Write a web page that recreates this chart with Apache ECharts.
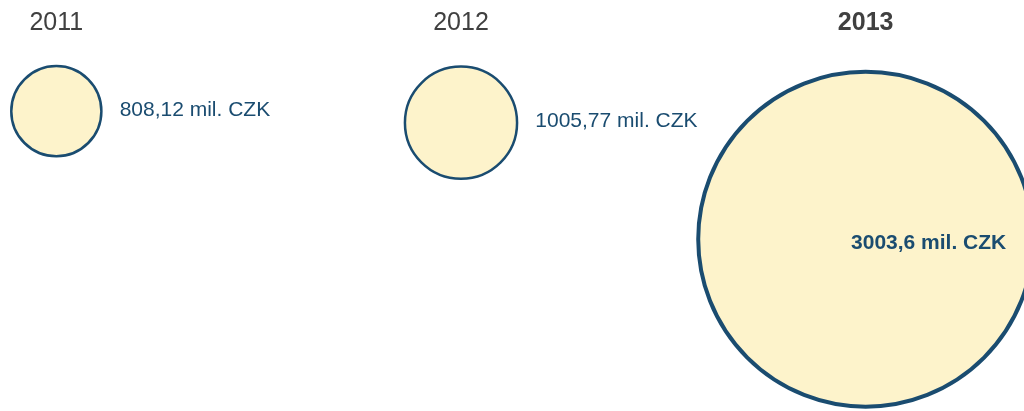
<!DOCTYPE html>
<html>
<head>
<meta charset="utf-8">
<script src="https://cdn.jsdelivr.net/npm/echarts@6/dist/echarts.min.js"></script>
<style>
  html, body { margin: 0; padding: 0; background: #fff; }
  #chart { width: 1024px; height: 411px; }
</style>
</head>
<body>
<div id="chart"></div>
<script>
  // ---------- data ----------
  var years = ['2011', '2012', '2013'];
  var amounts = [808.12, 1005.77, 3003.6];
  var amountLabels = ['808,12 mil. CZK', '1005,77 mil. CZK', '3003,6 mil. CZK'];

  var ink = '#1a4c70';
  var fill = '#fdf3cb';
  var last = years.length - 1;

  var chart = echarts.init(document.getElementById('chart'));

  var seriesData = amounts.map(function (v, i) {
    var isLast = i === last;
    return {
      value: [years[i], v],
      itemStyle: { borderWidth: isLast ? 4 : 2.5 },
      label: isLast
        ? { position: 'inside', offset: [63, 4], fontWeight: 'bold' }
        : { position: 'right', distance: 17, offset: [0, -1] }
    };
  });

  var option = {
    animation: false,
    grid: {
      left: -146,
      right: -44,
      top: 64,
      bottom: -3,
      outerBoundsMode: 'none'
    },
    xAxis: {
      type: 'category',
      position: 'top',
      data: years.map(function (y, i) {
        return i === last ? { value: y, textStyle: { fontWeight: 'bold' } } : y;
      }),
      axisLine: { show: false },
      axisTick: { show: false },
      splitLine: { show: false },
      axisLabel: {
        color: '#404040',
        fontSize: 25,
        fontFamily: 'Liberation Sans, Arial, sans-serif',
        margin: 28
      }
    },
    yAxis: {
      type: 'value',
      inverse: true,
      min: 0,
      max: 6000,
      show: false
    },
    series: [
      {
        type: 'scatter',
        clip: false,
        symbol: 'circle',
        symbolSize: function (val) { return val[1] * 0.1115; },
        itemStyle: { color: fill, borderColor: ink, opacity: 1 },
        label: {
          show: true,
          color: ink,
          fontSize: 21,
          fontFamily: 'Liberation Sans, Arial, sans-serif',
          formatter: function (p) { return amountLabels[p.dataIndex]; }
        },
        emphasis: { disabled: true },
        data: seriesData
      }
    ]
  };

  chart.setOption(option);
</script>
</body>
</html>
